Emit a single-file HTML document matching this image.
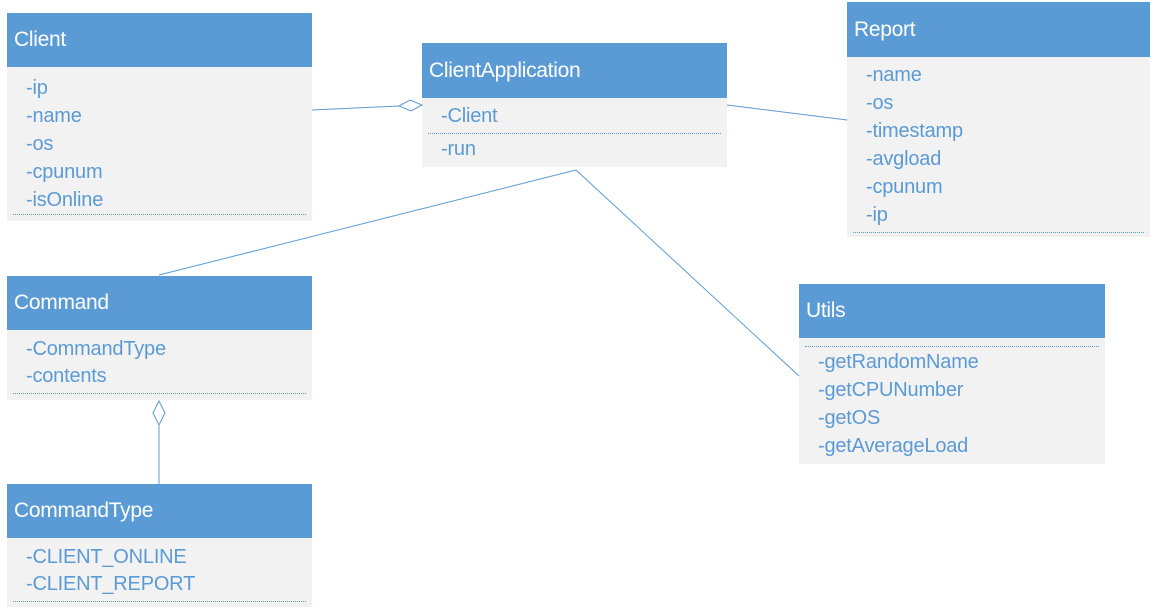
<!DOCTYPE html>
<html><head><style>
body{margin:0;width:1154px;height:611px;background:#fff;position:relative;overflow:hidden;font-family:"Liberation Sans",sans-serif}
.b{position:absolute;background:#f2f2f2}
.h{background:#5b9bd5;color:#fff;font-size:21px;padding-left:7px;box-sizing:border-box;display:flex;align-items:center;letter-spacing:-0.3px}
.i{position:absolute;left:19px;color:#5b9bd5;font-size:20px;line-height:22px;letter-spacing:-0.2px}
.d{position:absolute;left:6px;right:6px;border-top:1.5px dotted #5b9bd5}
svg{position:absolute;left:0;top:0}
</style></head><body>
<div class="b" style="left:7px;top:13px;width:305px;height:208px"><div class="h" style="height:54px">Client</div>
<div class="i" style="top:64px">-ip</div><div class="i" style="top:92px">-name</div><div class="i" style="top:120px">-os</div><div class="i" style="top:148px">-cpunum</div><div class="i" style="top:176px">-isOnline</div><div class="d" style="top:201px"></div></div>

<div class="b" style="left:422px;top:43px;width:305px;height:124px"><div class="h" style="height:55px">ClientApplication</div>
<div class="i" style="top:62px">-Client</div><div class="d" style="top:90px"></div><div class="i" style="top:95px">-run</div></div>

<div class="b" style="left:847px;top:2px;width:303px;height:235px"><div class="h" style="height:55px">Report</div>
<div class="i" style="top:62px">-name</div><div class="i" style="top:90px">-os</div><div class="i" style="top:118px">-timestamp</div><div class="i" style="top:146px">-avgload</div><div class="i" style="top:174px">-cpunum</div><div class="i" style="top:202px">-ip</div><div class="d" style="top:230px"></div></div>

<div class="b" style="left:799px;top:284px;width:306px;height:180px"><div class="h" style="height:54px">Utils</div>
<div class="d" style="top:62px"></div>
<div class="i" style="top:67px">-getRandomName</div><div class="i" style="top:95px">-getCPUNumber</div><div class="i" style="top:123px">-getOS</div><div class="i" style="top:151px">-getAverageLoad</div></div>

<div class="b" style="left:7px;top:276px;width:305px;height:124px"><div class="h" style="height:54px">Command</div>
<div class="i" style="top:62px">-CommandType</div><div class="i" style="top:89px">-contents</div><div class="d" style="top:117px"></div></div>

<div class="b" style="left:7px;top:484px;width:305px;height:123px"><div class="h" style="height:54px">CommandType</div>
<div class="i" style="top:62px">-CLIENT_ONLINE</div><div class="i" style="top:89px">-CLIENT_REPORT</div><div class="d" style="top:117px"></div></div>

<svg width="1154" height="611" fill="none" stroke="#5b9bd5" stroke-width="1">
<line x1="312" y1="110" x2="399" y2="106"/>
<polygon points="399,106 410,100 422,105 411,111" fill="#fff"/>
<line x1="727" y1="105" x2="847" y2="120"/>
<line x1="576" y1="170" x2="159" y2="275"/>
<line x1="576" y1="170" x2="799" y2="376"/>
<polygon points="159,401 165,413 159,425 153,413" fill="#fff"/>
<line x1="159" y1="425" x2="159" y2="484"/>
</svg>
</body></html>
